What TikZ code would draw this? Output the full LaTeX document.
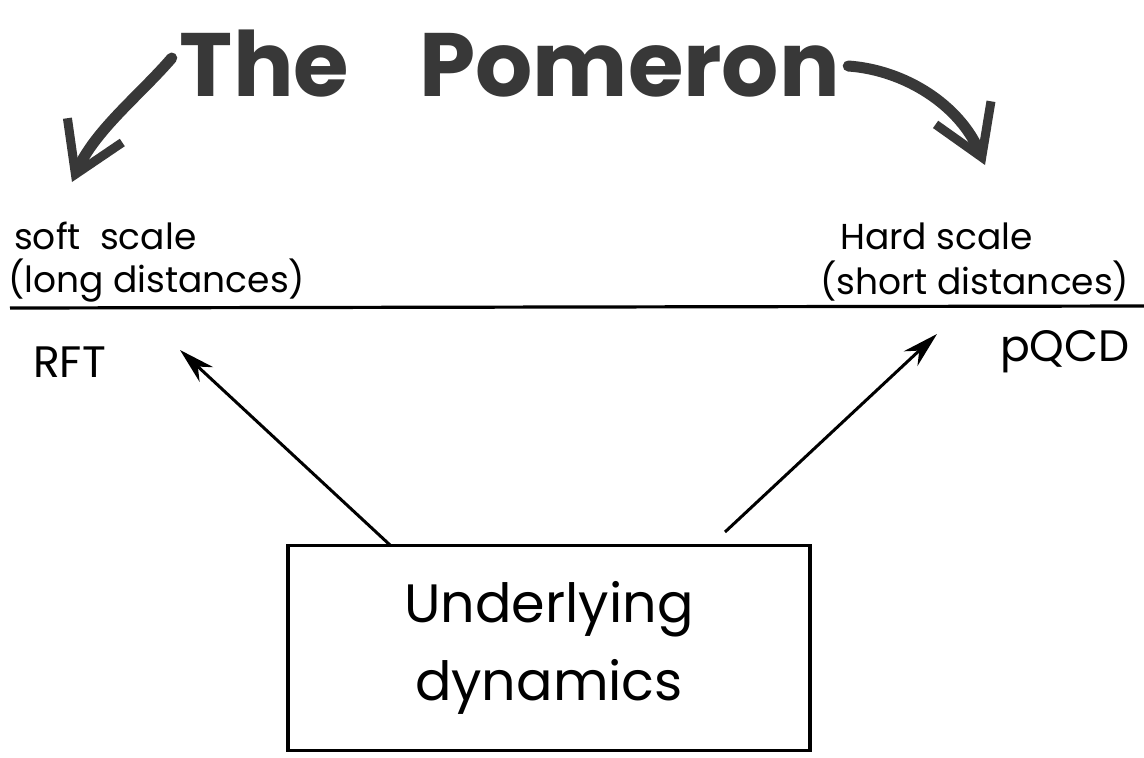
\documentclass[tikz,border=0pt]{standalone}
\usepackage{fontspec}
\setmainfont{Poppins}
\usetikzlibrary{arrows.meta}
\definecolor{marker}{HTML}{383838}
\tikzset{
  lbl/.style={inner sep=0pt, anchor=west, font=\fontsize{36}{42}\selectfont},
  bigarrow/.style={line width=11pt, color=marker, line cap=round,
    -{Straight Barb[length=48pt, width=60pt, line width=9pt]}},
  thinarrow/.style={line width=3pt, -{Stealth[length=36pt, width=20pt]}},
}
\begin{document}
\begin{tikzpicture}[x=1pt,y=-1pt]
\useasboundingbox (0,0) rectangle (1144,758);
% title
\node[inner sep=0pt, text=marker, font=\fontsize{90}{100}\bfseries\selectfont] (title) at (510,64) {The\hspace{70pt}Pomeron};
% labels
\node[lbl] (soft) at (14,236) {soft\ \ scale};
\node[lbl] (long) at (8,281) {(long distances)};
\node[lbl] (hard) at (840,236) {Hard\ scale};
\node[lbl] (short) at (820,281) {(short distances)};
\node[lbl, font=\fontsize{44}{50}\selectfont] (rft) at (33,362) {RFT};
\node[lbl, font=\fontsize{44}{50}\selectfont] (pqcd) at (1000,352) {pQCD};
% dividing line
\coordinate (lineL) at (10,308);
\coordinate (lineR) at (1144,306);
\draw[line width=3.2pt] (lineL) -- (lineR);
% box
\node[draw, line width=3.5pt, minimum width=522pt, minimum height=205pt, inner sep=0pt,
  align=center, font=\fontsize{54}{78}\selectfont] (box) at (549,648)
  {Underlying\\dynamics};
% arrows from box
\coordinate (boxL) at (390,545);
\coordinate (boxR) at (725,532);
\coordinate (tipL) at (180,350);
\coordinate (tipR) at (937,334);
\draw[thinarrow] (boxL) -- (tipL);
\draw[thinarrow] (boxR) -- (tipR);
% title arrows
\coordinate (tL) at (72,182);
\coordinate (tR) at (985,165);
\draw[bigarrow] ([xshift=-8pt,yshift=6pt]title.west) .. controls (140,95) and (95,130) .. (tL);
\draw[bigarrow] ([xshift=8pt,yshift=-2pt]title.east) .. controls (905,70) and (960,105) .. (tR);
\end{tikzpicture}
\end{document}
